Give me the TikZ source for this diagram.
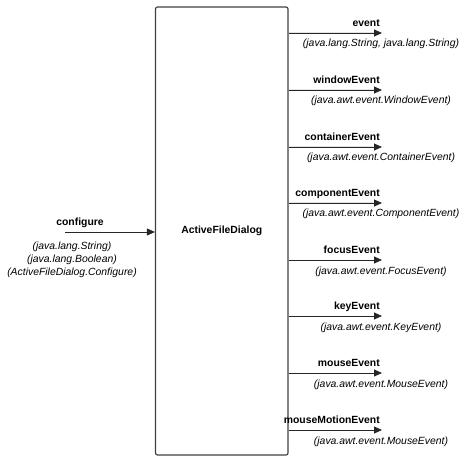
\documentclass[tikz,border=0pt]{standalone}
\usepackage{fontspec}
\setmainfont{Liberation Sans}
\usetikzlibrary{arrows.meta}

\begin{document}
\begin{tikzpicture}[x=1bp,y=-1bp,
  signal/.style={draw=none, inner sep=0pt, font=\fontsize{10.4bp}{13bp}\selectfont\bfseries},
  argtype/.style={draw=none, inner sep=0pt, align=center, font=\fontsize{10.4bp}{13bp}\selectfont\itshape},
  link/.style={-{Triangle[length=8bp,width=7bp]}, line width=0.9bp, draw=black!85, fill=black!85}]
%%%%%%%%%%%%%%%%%%%%%%%%%%%%%%%%%%%%%%%%%%% HELP LINES
%\draw[help lines] (0,0) grid +(469,464);
\useasboundingbox (0,0) rectangle (469,464);

%%%%%%%%%%%%%%%%%%%%%%%%%%%%%%%%%%%%%%%%%%% component
\node[shape=rectangle, draw=black!75, line width=1.2bp, rounded corners=2bp, minimum width=132.5bp, minimum height=448bp, font=\fontsize{10.4bp}{13bp}\selectfont\bfseries](dialog) at (221.75,231){ActiveFileDialog};

%%%%% input
\coordinate (in) at (65,232);
\draw[link] (in) -- (in -| dialog.west);
\node[signal, anchor=base] (configure) at (80,226){configure};
\node[argtype, anchor=base] (configureArgs) at (72,275){(java.lang.String)\\(java.lang.Boolean)\\(ActiveFileDialog.Configure)};

%%%%% outputs
\coordinate (ev1) at (382,33);
\coordinate (ev2) at (382,90);
\coordinate (ev3) at (382,147);
\coordinate (ev4) at (382,203);
\coordinate (ev5) at (382,260);
\coordinate (ev6) at (382,316);
\coordinate (ev7) at (382,373);
\coordinate (ev8) at (382,430);

\draw[link] (dialog.east |- ev1) -- (ev1);
\draw[link] (dialog.east |- ev2) -- (ev2);
\draw[link] (dialog.east |- ev3) -- (ev3);
\draw[link] (dialog.east |- ev4) -- (ev4);
\draw[link] (dialog.east |- ev5) -- (ev5);
\draw[link] (dialog.east |- ev6) -- (ev6);
\draw[link] (dialog.east |- ev7) -- (ev7);
\draw[link] (dialog.east |- ev8) -- (ev8);

\node[signal, anchor=base east] (event) at ([shift={(-2,-6.5)}]ev1){event};
\node[signal, anchor=base east] (windowEvent) at ([shift={(-2,-6.5)}]ev2){windowEvent};
\node[signal, anchor=base east] (containerEvent) at ([shift={(-2,-6.5)}]ev3){containerEvent};
\node[signal, anchor=base east] (componentEvent) at ([shift={(-2,-6.5)}]ev4){componentEvent};
\node[signal, anchor=base east] (focusEvent) at ([shift={(-2,-6.5)}]ev5){focusEvent};
\node[signal, anchor=base east] (keyEvent) at ([shift={(-2,-6.5)}]ev6){keyEvent};
\node[signal, anchor=base east] (mouseEvent) at ([shift={(-2,-6.5)}]ev7){mouseEvent};
\node[signal, anchor=base east] (mouseMotionEvent) at ([shift={(-2,-6.5)}]ev8){mouseMotionEvent};

\node[argtype, anchor=base] (eventArgs) at ([shift={(-1,14)}]ev1){(java.lang.String, java.lang.String)};
\node[argtype, anchor=base] (windowArgs) at ([shift={(-1,14)}]ev2){(java.awt.event.WindowEvent)};
\node[argtype, anchor=base] (containerArgs) at ([shift={(-1,14)}]ev3){(java.awt.event.ContainerEvent)};
\node[argtype, anchor=base] (componentArgs) at ([shift={(-1,14)}]ev4){(java.awt.event.ComponentEvent)};
\node[argtype, anchor=base] (focusArgs) at ([shift={(-1,14)}]ev5){(java.awt.event.FocusEvent)};
\node[argtype, anchor=base] (keyArgs) at ([shift={(-1,14)}]ev6){(java.awt.event.KeyEvent)};
\node[argtype, anchor=base] (mouseArgs) at ([shift={(-1,14)}]ev7){(java.awt.event.MouseEvent)};
\node[argtype, anchor=base] (motionArgs) at ([shift={(-1,14)}]ev8){(java.awt.event.MouseEvent)};

\end{tikzpicture}
\end{document}
